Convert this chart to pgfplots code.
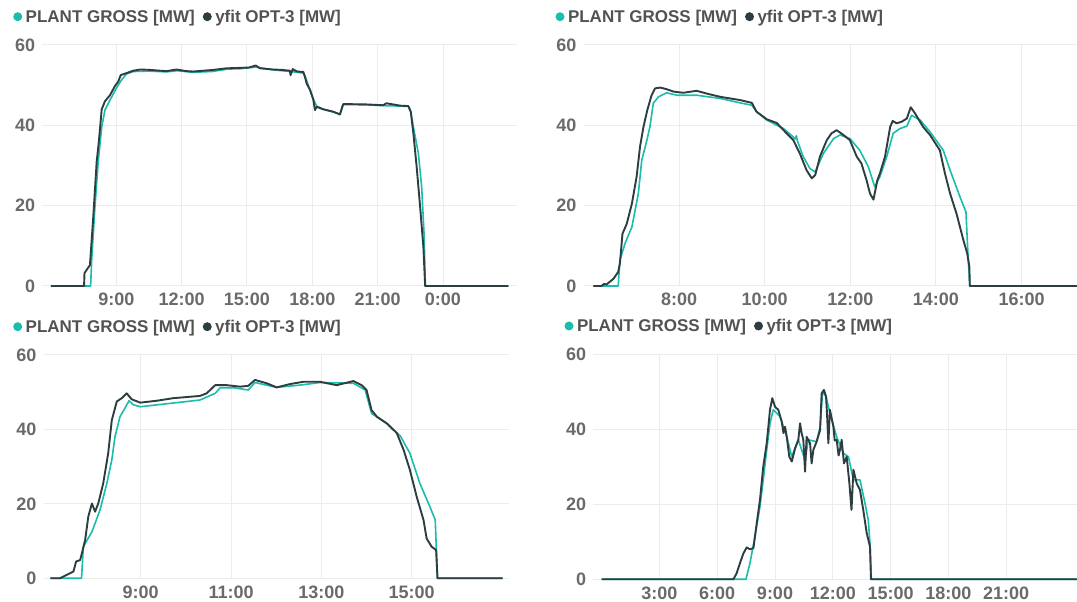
\documentclass[border=0pt]{standalone}
\usepackage{fontspec}
\setmainfont{Liberation Sans}
\usepackage{pgfplots}
\pgfplotsset{compat=1.18}
\definecolor{cTeal}{HTML}{1ABCAA}
\definecolor{cDark}{HTML}{2E3D41}
\definecolor{cTick}{HTML}{6A6A6A}
\definecolor{cLegend}{HTML}{525252}
\definecolor{cGrid}{HTML}{ECECEC}

\pgfplotsset{
  panel/.style={
    scale only axis,
    anchor=south west,
    ymin=0, ymax=60,
    ytick={0,20,40,60},
    yticklabels={0,20,40,60},
    grid=major,
    grid style={cGrid, line width=1pt},
    axis line style={draw=none},
    major tick length=0pt,
    tick label style={font=\fontsize{18}{18}\selectfont\bfseries, text=cTick, inner sep=0pt},
    yticklabel style={anchor=east, xshift=-7pt},
    xticklabel style={anchor=north, yshift=-7pt},
    clip=false,
    legend columns=2,
    legend image code/.code={\fill[#1, draw=none] (4.5pt,0pt) circle (4.5pt);},
    legend style={draw=none, fill=none, inner sep=0pt, outer sep=0pt,
      anchor=west, font=\fontsize{17}{17}\selectfont\bfseries, text=cLegend,
      nodes={inner sep=0pt},
      /tikz/every odd column/.append style={column sep=3.5pt},
      /tikz/every even column/.append style={column sep=8pt}},
    every axis plot/.append style={line join=round},
  },
  gross/.style={color=cTeal, line width=1.6pt},
  yfit/.style={color=cDark, line width=1.9pt},
}

\begin{document}
\begin{tikzpicture}
% top left
\begin{axis}[panel, at={(42.25pt,316pt)}, width=474.8pt, height=241pt,
  xmin=5.6, xmax=27.4,
  xtick={9,12,15,18,21,24}, xticklabels={9:00,12:00,15:00,18:00,21:00,0:00},
  legend style={at={(0,1)}, xshift=-29pt, yshift=28.3pt}]
\addplot[gross] coordinates {
 (6,0)(7.82,0)(7.87,6.4)(8.02,19.7)(8.17,31)(8.33,39.6)(8.48,43.8)(8.71,46.3)(9.02,49.4)(9.24,51.3)
 (9.47,52.8)(9.78,53.4)(10.5,53.5)(11.3,53.3)(11.8,53.6)(12.5,53.2)(13.4,53.4)(14.1,54.0)(14.7,54.1)
 (15.4,54.5)(16.2,53.8)(17.0,53.4)(17.59,53.0)(17.7,51.8)(17.9,48.6)(18.05,46.5)(18.2,44.8)(18.5,44.0)
 (18.96,43.3)(19.27,42.8)(19.35,44.0)(19.42,45.2)(20.5,45.1)(21.26,44.9)(22.03,44.8)(22.41,44.7)
 (22.52,43.4)(22.64,39.6)(22.87,33)(23.02,24.7)(23.13,13)(23.19,0)(27,0)
};
\addplot[yfit] coordinates {
 (6,0)(7.52,0)(7.54,3.2)(7.7,4.5)(7.79,5.2)(7.94,17)(8.1,31)(8.2,36)(8.33,44)(8.48,46)(8.71,47.5)
 (8.94,49.8)(9.09,50.9)(9.2,52.5)(9.47,53)(9.78,53.6)(10.1,53.9)(10.55,53.8)(11.0,53.6)(11.31,53.5)
 (11.77,53.9)(12.2,53.5)(12.54,53.4)(13.0,53.6)(13.45,53.8)(14.07,54.2)(14.68,54.3)(15.1,54.4)
 (15.4,54.9)(15.6,54.2)(16.2,53.9)(16.6,53.8)(16.97,53.6)(17.0,52.5)(17.1,54.0)(17.3,53.4)(17.59,53.3)
 (17.66,52.1)(17.74,50.4)(17.9,48.8)(18.05,46.3)(18.12,43.8)(18.2,44.6)(18.5,44.0)(18.96,43.4)
 (19.27,42.7)(19.35,44.2)(19.42,45.3)(20.5,45.2)(21.26,45.0)(21.4,45.5)(22.03,44.9)(22.41,44.8)
 (22.52,43.4)(22.64,38)(22.79,29.7)(22.95,19.7)(23.1,9.7)(23.18,0)(27,0)
};
\legend{PLANT GROSS [MW], yfit OPT-3 [MW]}
\end{axis}

% top right
\begin{axis}[panel, at={(583.5pt,316pt)}, width=498.1pt, height=241pt,
  xmin=5.77, xmax=17.4,
  xtick={8,10,12,14,16}, xticklabels={8:00,10:00,12:00,14:00,16:00},
  legend style={at={(0,1)}, xshift=-28pt, yshift=28.3pt}]
\addplot[gross] coordinates {
 (6,0)(6.58,0)(6.62,6.4)(6.74,10.6)(6.9,14.7)(7.05,23)(7.13,31.3)(7.25,36.3)(7.32,39.6)(7.4,45.5)
 (7.52,47.1)(7.71,48.1)(7.95,47.5)(8.41,47.5)(8.96,46.7)(9.42,45.6)(9.7,45)(9.81,43.4)(10.05,41.3)
 (10.44,39.2)(10.67,37.1)(10.71,36.6)(10.74,37.4)(10.76,36.3)(10.9,32.2)(11.06,29.2)(11.18,28.4)
 (11.37,33)(11.61,36.7)(11.76,37.6)(11.99,36.7)(12.22,33.8)(12.42,29.7)(12.57,24.7)(12.69,27.2)
 (12.85,32.2)(13.0,38)(13.16,39.2)(13.32,39.8)(13.43,42.5)(13.63,41.3)(13.86,38.4)(14.17,33.8)
 (14.33,28.8)(14.56,22.2)(14.7,18.4)(14.75,7.2)(14.79,0)(17.4,0)
};
\addplot[yfit] coordinates {
 (6,0)(6.19,0)(6.25,0.5)(6.31,0.4)(6.47,1.8)(6.58,3.5)(6.62,5.6)(6.68,13)(6.78,15.5)(6.9,20.5)
 (7.01,27.2)(7.09,34.7)(7.17,39.6)(7.26,43.8)(7.36,47.5)(7.44,49.2)(7.56,49.4)(7.71,49)(7.87,48.4)
 (8.1,48.1)(8.41,48.6)(8.65,47.9)(8.96,47.1)(9.42,46.3)(9.7,45.6)(9.81,43.4)(10.05,41.5)(10.28,40.6)
 (10.44,38.8)(10.67,36.3)(10.82,33)(10.98,28.8)(11.1,26.8)(11.18,27.6)(11.29,32.2)(11.45,36.3)
 (11.56,38)(11.68,38.8)(11.84,37.6)(11.99,36.3)(12.15,32.2)(12.26,30.5)(12.38,26.3)(12.46,23)
 (12.54,21.5)(12.63,26.3)(12.69,28)(12.81,32.2)(12.93,39.6)(12.99,41.1)(13.08,40.5)(13.2,40.9)
 (13.32,41.7)(13.41,44.5)(13.51,43)(13.7,39.6)(13.86,37.6)(14.09,33.8)(14.21,28)(14.33,23)
 (14.48,18)(14.64,11.4)(14.73,8.1)(14.78,4.7)(14.79,0)(17.4,0)
};
\legend{PLANT GROSS [MW], yfit OPT-3 [MW]}
\end{axis}

% bottom left
\begin{axis}[panel, at={(43.6pt,23.7pt)}, width=465.7pt, height=223.3pt,
  xmin=6.85, xmax=17.16,
  xtick={9,11,13,15}, xticklabels={9:00,11:00,13:00,15:00},
  legend style={at={(0,1)}, xshift=-30.4pt, yshift=28.3pt}]
\addplot[gross] coordinates {
 (7,0)(7.69,0)(7.73,8.5)(7.92,12.5)(8.1,18.4)(8.25,25.5)(8.36,31.8)(8.43,38)(8.54,43.4)(8.65,45.7)
 (8.74,47.7)(8.84,46.6)(8.99,46.1)(9.43,46.7)(10.31,47.9)(10.65,49.7)(10.76,51.2)(11.06,51.2)
 (11.38,50.6)(11.53,52.6)(11.79,51.9)(12.01,51.3)(12.52,51.9)(12.97,52.6)(13.71,52.4)(13.97,50.6)
 (14.11,44.3)(14.45,41.6)(14.75,38.2)(14.96,33.6)(15.18,25.5)(15.4,19.3)(15.52,15.7)(15.57,0)(17.01,0)
};
\addplot[yfit] coordinates {
 (7,0)(7.21,0)(7.36,0.9)(7.51,1.8)(7.57,4.5)(7.66,4.9)(7.77,10.3)(7.84,16.6)(7.92,20.1)(7.99,17.9)
 (8.06,20.1)(8.17,25.5)(8.28,33.6)(8.36,42.5)(8.47,47.5)(8.58,48.4)(8.69,49.7)(8.8,48.1)(8.99,47.2)
 (9.35,47.7)(9.72,48.4)(10.31,49)(10.46,49.7)(10.65,51.9)(10.9,51.9)(11.2,51.5)(11.38,51.7)
 (11.53,53.3)(11.79,52.4)(12.01,51.3)(12.31,52.2)(12.6,52.8)(12.97,52.8)(13.34,51.9)(13.71,53)
 (13.89,51.9)(14.0,50.6)(14.11,45.2)(14.23,43.4)(14.45,41.6)(14.67,39)(14.82,34.5)(14.96,29.1)
 (15.11,21.9)(15.26,15.7)(15.33,10.7)(15.44,8.5)(15.54,7.6)(15.57,0)(17.01,0)
};
\legend{PLANT GROSS [MW], yfit OPT-3 [MW]}
\end{axis}

% bottom right
\begin{axis}[panel, at={(593.3pt,22.7pt)}, width=490pt, height=225pt,
  xmin=-0.43, xmax=25,
  xtick={3,6,9,12,15,18,21}, xticklabels={3:00,6:00,9:00,12:00,15:00,18:00,21:00},
  legend style={at={(0,1)}, xshift=-28.8pt, yshift=28.3pt}]
\addplot[gross] coordinates {
 (0,0)(7.49,0)(7.7,4.3)(7.96,11.4)(8.22,19.4)(8.39,26.5)(8.57,34.5)(8.74,41.6)(8.91,45.2)(9.26,43.4)
 (9.61,38)(9.87,32.7)(10.21,37.2)(10.56,31.8)(10.73,37.2)(11.16,36.7)(11.34,40.7)(11.47,50)
 (11.65,48.7)(11.85,44.3)(12.2,38)(12.55,33.6)(12.81,32.7)(13.07,26.5)(13.41,26.5)(13.67,20.3)
 (13.84,15.8)(13.93,9.6)(14.0,0)(25,0)
};
\addplot[yfit] coordinates {
 (0,0)(6.84,0)(7.01,1.6)(7.18,4.3)(7.36,6.9)(7.53,8.5)(7.7,8)(7.88,8.3)(8.05,14.9)(8.22,21.2)
 (8.39,30)(8.57,36.3)(8.74,45.2)(8.86,48.3)(9.0,46)(9.17,45.2)(9.35,42)(9.44,39)(9.52,40.7)(9.61,38)
 (9.74,32.7)(9.87,31.4)(10.04,34.9)(10.21,37.2)(10.3,41.6)(10.38,39)(10.47,37.2)(10.56,28.7)
 (10.64,38)(10.82,36.3)(10.9,30.9)(10.99,34.5)(11.16,36.7)(11.34,39.8)(11.42,49.6)(11.54,50.5)
 (11.65,48.7)(11.7,44)(11.77,36.3)(11.85,45.2)(12.03,40.7)(12.1,37)(12.2,37.2)(12.3,33)(12.37,34.5)
 (12.46,37.2)(12.58,30.9)(12.72,32.7)(12.86,25.6)(12.97,18.5)(13.07,29.2)(13.24,25.6)(13.41,23.8)
 (13.58,18.5)(13.76,12.3)(13.93,8.7)(13.98,0)(25,0)
};
\legend{PLANT GROSS [MW], yfit OPT-3 [MW]}
\end{axis}
\pgfresetboundingbox
\useasboundingbox (0pt,0pt) rectangle (1077pt,602pt);
\end{tikzpicture}
\end{document}
